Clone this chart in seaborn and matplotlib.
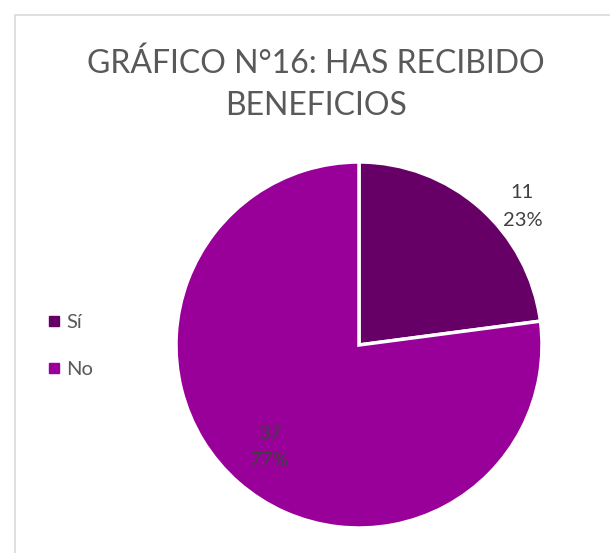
import numpy as np
import matplotlib
matplotlib.use("Agg")
import matplotlib.pyplot as plt
import seaborn as sns
from matplotlib.patches import Rectangle

TITLE = "GRÁFICO N°16: HAS RECIBIDO\nBENEFICIOS"
CATEGORIES = ["Sí", "No"]
COUNTS = [11, 37]
COLORS = ["#660066", "#990099"]


def plot_pie():
    sns.set_theme(style="white")
    plt.rcParams['font.family'] = ['Lato', 'DejaVu Sans']

    fig = plt.figure(figsize=(6.10, 5.53), dpi=100)

    # light grey chart frame (Excel style)
    fig.patches.append(Rectangle((15 / 610, -0.05), 1.0, 1 - 15 / 553 + 0.05, transform=fig.transFigure,
                                 fill=False, edgecolor="#d9d9d9", linewidth=1.2))

    ax = fig.add_axes([176 / 610, 25 / 553, 366 / 610, 366 / 553])
    wedges, _ = ax.pie(COUNTS, colors=COLORS, startangle=90, counterclock=False,
                       wedgeprops={'edgecolor': 'white', 'linewidth': 2.5})
    ax.set_xlim(-1, 1)
    ax.set_ylim(-1, 1)

    total = sum(COUNTS)
    # (radius, angle shift) for each label, Excel "best fit" placement
    label_place = [(1.17, -8.5), (0.74, 0.0)]
    for w, n, (r, shift) in zip(wedges, COUNTS, label_place):
        ang = np.deg2rad((w.theta1 + w.theta2) / 2 + shift)
        ax.text(r * np.cos(ang), r * np.sin(ang), f"{n}\n{n / total:.0%}", ha='center', va='center',
                fontsize=14.5, color="#404040", linespacing=1.75)

    fig.text(316 / 610, 1 - 85 / 553, TITLE, ha='center', va='center', fontsize=23, color="#595959",
             linespacing=1.5)

    handles = [plt.Line2D([], [], marker='s', linestyle='', markersize=7, color=c) for c in COLORS]
    fig.legend(handles, CATEGORIES, loc='center left', bbox_to_anchor=(26 / 610, 1 - 346 / 553), frameon=False,
               fontsize=14.5, labelcolor="#595959", handletextpad=0.1, labelspacing=1.45, handlelength=1.0)

    fig.savefig("out.png", dpi=100)


if __name__ == "__main__":
    plot_pie()
